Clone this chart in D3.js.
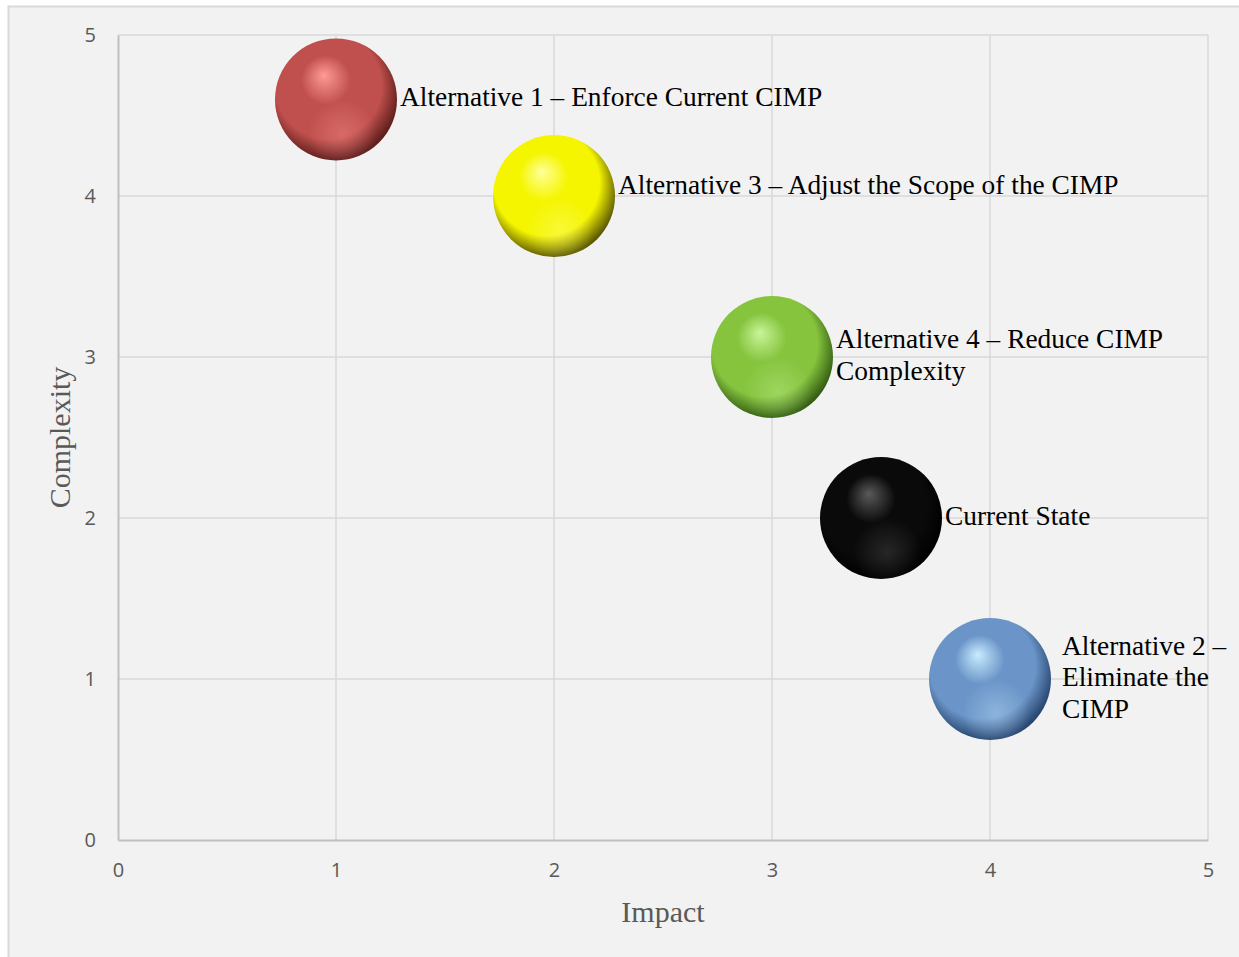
<!DOCTYPE html>
<html><head><meta charset="utf-8">
<script src="https://cdn.jsdelivr.net/npm/d3@7"></script>
<style>
html,body{margin:0;padding:0;background:#fff;}
svg{display:block;}
</style></head>
<body>
<svg id="chart" width="1239" height="957"></svg>
<script>
// ---- data ----
const names = ["Alternative 1 – Enforce Current CIMP","Alternative 3 – Adjust the Scope of the CIMP","Alternative 4 – Reduce CIMP Complexity","Current State","Alternative 2 – Eliminate the CIMP"];
const labelLines = [["Alternative 1 – Enforce Current CIMP"],["Alternative 3 – Adjust the Scope of the CIMP"],["Alternative 4 – Reduce CIMP","Complexity"],["Current State"],["Alternative 2 –","Eliminate the","CIMP"]];
const impact = [1, 2, 3, 3.5, 4];
const complexity = [4.6, 4, 3, 2, 1];
const bubbleSize = [1, 1, 1, 1, 1];
const colors = ["#c0504d","#f5f500","#86c43e","#0a0a0a","#6b95c8"];
const highlights = ["#ff9a96","#ffff9a","#c8f59a","#5a5a5a","#c8ecff"];
const shades = ["#5e1e1c","#5e5a00","#355e14","#000000","#284670"];
const xTicks = [0,1,2,3,4,5];
const yTicks = [0,1,2,3,4,5];
const xTitle = "Impact", yTitle = "Complexity";

const svg = d3.select("#chart");
const W = 1239, H = 957;
svg.append("rect").attr("width",W).attr("height",H).attr("fill","#ffffff");
svg.append("rect").attr("x",8.5).attr("y",6.5).attr("width",W+10).attr("height",H+10)
  .attr("fill","#f2f2f2").attr("stroke","#d9d9d9").attr("stroke-width",2);

const m = {l:118, r:1208, t:35, b:840};
const x = d3.scaleLinear().domain([0,5]).range([m.l,m.r]);
const y = d3.scaleLinear().domain([0,5]).range([m.b,m.t]);
const r = d3.scaleSqrt().domain([0,1]).range([0,61]);

// gridlines
const grid = svg.append("g");
grid.selectAll(".vx").data(xTicks.filter(d=>d>0)).join("line")
  .attr("x1",d=>x(d)).attr("x2",d=>x(d)).attr("y1",m.t).attr("y2",m.b)
  .attr("stroke","#d9d9d9").attr("stroke-width",1.5);
grid.selectAll(".hy").data(yTicks.filter(d=>d>0)).join("line")
  .attr("y1",d=>y(d)).attr("y2",d=>y(d)).attr("x1",m.l).attr("x2",m.r)
  .attr("stroke","#d9d9d9").attr("stroke-width",1.5);

// axes
const xAxis = d3.axisBottom(x).tickValues(xTicks).tickSize(0).tickPadding(23).tickFormat(d3.format("d"));
const yAxis = d3.axisLeft(y).tickValues(yTicks).tickSize(0).tickPadding(22).tickFormat(d3.format("d"));
const gx = svg.append("g").attr("transform",`translate(0,${m.b})`).call(xAxis);
const gy = svg.append("g").attr("transform",`translate(${m.l},0)`).call(yAxis);
[gx,gy].forEach(g=>{
  g.select(".domain").attr("stroke","#bfbfbf").attr("stroke-width",2);
  g.selectAll("text").attr("fill","#595959").style("font-family","'Open Sans', sans-serif").style("font-size","20px");
});

svg.append("text").attr("x",(m.l+m.r)/2).attr("y",922).attr("text-anchor","middle")
  .attr("fill","#595959").style("font-family","'Liberation Serif', serif").style("font-size","30px").text(xTitle);
svg.append("text").attr("transform",`translate(70,${(m.t+m.b)/2}) rotate(-90)`).attr("text-anchor","middle")
  .attr("fill","#595959").style("font-family","'Liberation Serif', serif").style("font-size","30px").text(yTitle);

// gradients
const defs = svg.append("defs");
names.forEach((n,i)=>{
  const g = defs.append("radialGradient").attr("id","main"+i)
    .attr("cx","45%").attr("cy","42%").attr("r","58%").attr("fx","40%").attr("fy","30%");
  g.append("stop").attr("offset","0%").attr("stop-color",highlights[i]);
  g.append("stop").attr("offset","35%").attr("stop-color",colors[i]);
  g.append("stop").attr("offset","75%").attr("stop-color",colors[i]);
  g.append("stop").attr("offset","100%").attr("stop-color",shades[i]);
  const g2 = defs.append("radialGradient").attr("id","refl"+i)
    .attr("cx","55%").attr("cy","78%").attr("r","28%");
  g2.append("stop").attr("offset","0%").attr("stop-color",highlights[i]).attr("stop-opacity",0.35);
  g2.append("stop").attr("offset","100%").attr("stop-color",highlights[i]).attr("stop-opacity",0);
});

const data = names.map((n,i)=>({n,i,x:impact[i],y:complexity[i],s:bubbleSize[i],lines:labelLines[i]}));
const bub = svg.append("g").selectAll("g").data(data).join("g");
bub.append("circle").attr("cx",d=>x(d.x)).attr("cy",d=>y(d.y)).attr("r",d=>r(d.s))
  .attr("fill",d=>`url(#main${d.i})`);
bub.append("circle").attr("cx",d=>x(d.x)).attr("cy",d=>y(d.y)).attr("r",d=>r(d.s))
  .attr("fill",d=>`url(#refl${d.i})`);

// small label nudges (Excel placement)
const nudgeY = {1:-9};
const nudgeX = {4:8};
const lh = 31.5;
const lx = d => x(d.x)+r(d.s)+3+(nudgeX[d.i]||0);
const lbl = svg.append("g").selectAll("text").data(data).join("text")
  .attr("x",lx)
  .attr("y",d=>y(d.y) - (d.lines.length-1)*lh/2 + 7 + (nudgeY[d.i]||0))
  .attr("fill","#000").style("font-family","'Liberation Serif', serif").style("font-size","27.4px");
lbl.selectAll("tspan").data(d=>d.lines.map(l=>({l,d}))).join("tspan")
  .attr("x",t=>lx(t.d)).attr("dy",(t,j)=>j===0?0:lh).text(t=>t.l);
</script>
</body></html>
